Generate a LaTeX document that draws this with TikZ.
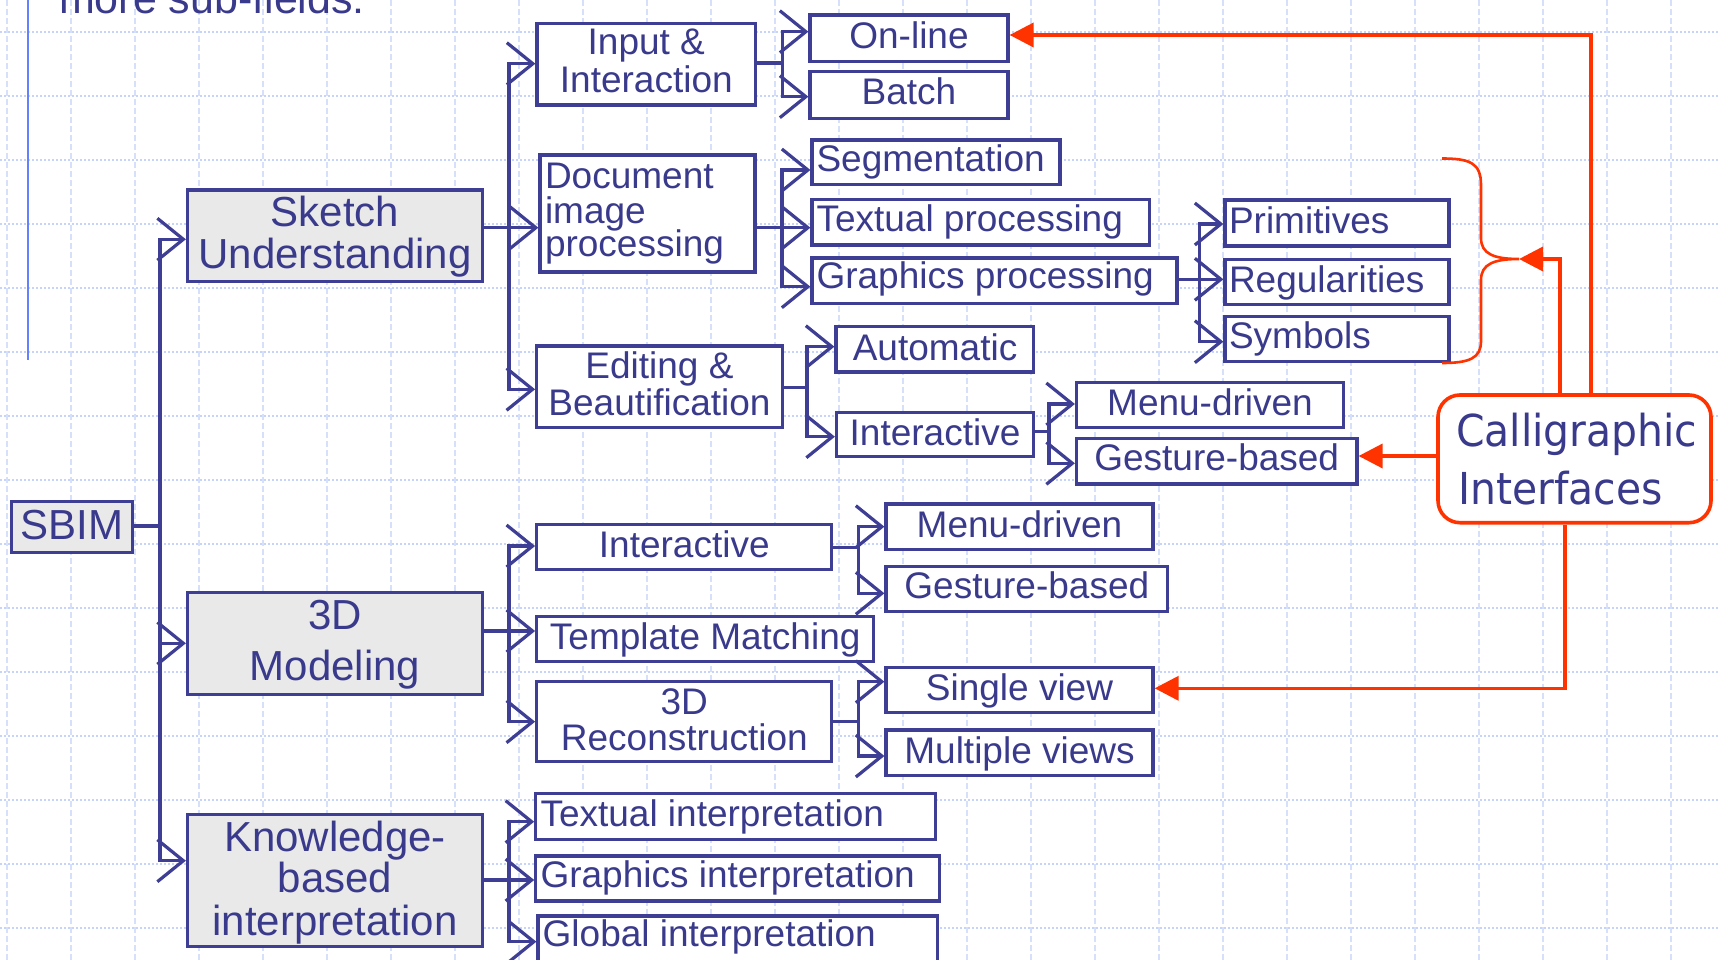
\documentclass[tikz,border=0pt]{standalone}
\usepackage{fontspec}
\setmainfont{Liberation Sans}
\newfontfamily\calfont[FakeStretch=0.93]{DejaVu Sans}
\usetikzlibrary{arrows.meta}
\definecolor{navy}{RGB}{62,62,148}
\definecolor{txtc}{RGB}{58,58,140}
\definecolor{grayfill}{RGB}{233,233,233}
\definecolor{redc}{RGB}{255,51,0}
\definecolor{gridh}{RGB}{198,212,250}
\definecolor{gridv}{RGB}{214,224,250}
\definecolor{leftline}{RGB}{100,130,255}
\newcommand\mybox[6]{\node[#6, minimum width={(#4-#2)*1pt}, minimum height={(#5-#3)*1pt}] (#1) at ({(#2+#4)/2},{(#3+#5)/2}) {};}
\tikzset{
  box/.style={draw=navy, line width=3.2pt, fill=white, inner sep=0pt, rectangle},
  topbox/.style={box, fill=grayfill},
  calbox/.style={draw=redc, line width=3.6pt, rounded corners=22pt, fill=white, inner sep=0pt, rectangle},
  big/.style={text=txtc, font=\fontsize{42}{42}\selectfont, inner sep=0pt, outer sep=0pt},
  small/.style={text=txtc, font=\fontsize{37}{37}\selectfont, inner sep=0pt, outer sep=0pt},
  caltext/.style={text=txtc, font=\calfont\fontsize{44}{44}\selectfont, inner sep=0pt, outer sep=0pt},
  conn/.style={draw=navy, line width=3.2pt},
  vbarb/.tip={Straight Barb[length=26pt,width=42pt]},
  rtri/.tip={Triangle[length=24pt,width=24pt]},
  redline/.style={draw=redc, line width=3.6pt},
  gridvline/.style={draw=gridv, line width=1.6pt, dash pattern=on 6pt off 3pt},
  gridhline/.style={draw=gridh, line width=1.8pt, dash pattern=on 2pt off 2pt},
}
\begin{document}
\begin{tikzpicture}[x=1pt,y=-1pt]
\clip (0,0) rectangle (1719,960);
\fill[white] (0,0) rectangle (1719,960);
% background grid
\foreach \k in {0,...,26} \draw[gridvline] ({6.7+64*\k},0) -- ({6.7+64*\k},960);
\foreach \k in {0,...,14} \draw[gridhline] (0,{32+64*\k}) -- (1719,{32+64*\k});
\draw[draw=leftline, line width=2pt] (28.3,0) -- (28.3,360);
\node[anchor=base west, text=txtc, font=\fontsize{43}{43}\selectfont, inner sep=0pt, outer sep=0pt] (toptext) at (59,13.3) {more sub-fields:};

% level 1
\mybox{sbim}{11.5}{501.7}{132.8}{552.3}{topbox}
\mybox{sketch}{187.5}{190}{482.2}{281.3}{topbox}
\mybox{model}{187.5}{592.7}{482.2}{694.3}{topbox}
\mybox{know}{187.5}{814.3}{482.2}{946.7}{topbox}
% level 2
\mybox{input}{537}{23.3}{755.5}{105}{box}
\mybox{doc}{540}{155}{755}{272}{box}
\mybox{edit}{536.7}{346}{782.2}{427.3}{box}
\mybox{inter3}{536.7}{524.3}{831.8}{569.3}{box}
\mybox{templ}{536.7}{616.3}{873.8}{661.7}{box}
\mybox{recon}{536.7}{681.7}{831.8}{761.7}{box}
\mybox{textint}{535.8}{793.3}{935.4}{839.3}{box}
\mybox{graphint}{535.8}{856}{939.8}{901}{box}
\mybox{globint}{538}{916}{937.6}{975}{box}
% level 3
\mybox{online}{810}{15}{1008}{61.7}{box}
\mybox{batch}{810}{71.7}{1008}{118.3}{box}
\mybox{seg}{812}{140}{1060}{184.3}{box}
\mybox{textp}{812}{199.3}{1149.4}{245}{box}
\mybox{graphp}{812}{258}{1177}{303.3}{box}
\mybox{auto}{836}{326.7}{1033.6}{372}{box}
\mybox{inter2}{836.5}{412.3}{1033.6}{456.7}{box}
\mybox{menu3}{886}{504}{1153}{549.3}{box}
\mybox{gest3}{886}{566.7}{1167.5}{611.7}{box}
\mybox{single}{886}{667.3}{1153}{712.3}{box}
\mybox{multi}{886}{730}{1153}{775.7}{box}
% level 4
\mybox{prim}{1225}{200}{1449}{246}{box}
\mybox{reg}{1225}{259.3}{1449}{304.3}{box}
\mybox{sym}{1225}{316.7}{1449}{361.7}{box}
\mybox{menu2}{1076.5}{382.3}{1343.5}{427.3}{box}
\mybox{gest2}{1076.5}{438.3}{1357}{484}{box}
% calligraphic
\mybox{cal}{1438}{395}{1711}{522.7}{calbox}

% texts level 1
\node[big, anchor=base] (tsbim) at (72.2,539.3) {SBIM};
\node[big, anchor=base] (tsk1) at (335,226.7) {Sketch};
\node[big, anchor=base] (tsk2) at (335,268.3) {Understanding};
\node[big, anchor=base] (tmo1) at (335,629.3) {3D};
\node[big, anchor=base] (tmo2) at (335,680) {Modeling};
\node[big, anchor=base] (tkn1) at (335,851.7) {Knowledge-};
\node[big, anchor=base] (tkn2) at (335,892.7) {based};
\node[big, anchor=base] (tkn3) at (335,935) {interpretation};
% texts level 2
\node[small, anchor=base] (tin1) at (646.3,55) {Input \&};
\node[small, anchor=base] (tin2) at (646.3,92.7) {Interaction};
\node[small, anchor=base west] (tdo1) at (545,188.3) {Document};
\node[small, anchor=base west] (tdo2) at (545,223.3) {image};
\node[small, anchor=base west] (tdo3) at (545,256.7) {processing};
\node[small, anchor=base] (ted1) at (659.5,378.3) {Editing \&};
\node[small, anchor=base] (ted2) at (659.5,415) {Beautification};
\node[small, anchor=base] (ti3) at (684.3,557.3) {Interactive};
\node[small, anchor=base] (tte) at (705.2,649.3) {Template Matching};
\node[small, anchor=base] (tre1) at (684.3,714) {3D};
\node[small, anchor=base] (tre2) at (684.3,750) {Reconstruction};
\node[small, anchor=base west] (ttx) at (540.5,826) {Textual interpretation};
\node[small, anchor=base west] (tgr) at (540.5,887.3) {Graphics interpretation};
\node[small, anchor=base west] (tgl) at (542.7,946.7) {Global interpretation};
% texts level 3
\node[small, anchor=base] (ton) at (909,48.3) {On-line};
\node[small, anchor=base] (tba) at (909,105) {Batch};
\node[small, anchor=base west] (tse) at (816.5,171.7) {Segmentation};
\node[small, anchor=base west] (ttp) at (816.5,231.7) {Textual processing};
\node[small, anchor=base west] (tgp) at (816.5,288.3) {Graphics processing};
\node[small, anchor=base] (tau) at (935,360) {Automatic};
\node[small, anchor=base] (ti2) at (935,445) {Interactive};
\node[small, anchor=base] (tm3) at (1019.5,537.3) {Menu-driven};
\node[small, anchor=base] (tg3) at (1026.8,598.3) {Gesture-based};
\node[small, anchor=base] (tsv) at (1019.5,700) {Single view};
\node[small, anchor=base] (tmv) at (1019.5,763.3) {Multiple views};
% texts level 4
\node[small, anchor=base west] (tpr) at (1229,233.3) {Primitives};
\node[small, anchor=base west] (trg) at (1229,292.3) {Regularities};
\node[small, anchor=base west] (tsy) at (1229,348.3) {Symbols};
\node[small, anchor=base] (tm2) at (1210,415) {Menu-driven};
\node[small, anchor=base] (tg2) at (1216.7,470.7) {Gesture-based};
\node[caltext, anchor=base west] (tca1) at (1456,446.7) {Calligraphic};
\node[caltext, anchor=base west] (tca2) at (1458,504) {Interfaces};

% connectors
% sbim
\coordinate (j1) at (160,526);
\coordinate (a1s) at (160,239.3);
\coordinate (a1m) at (160,643.3);
\coordinate (a1k) at (160,860.7);
\draw[conn] (j1 -| sbim.east) -- (j1);
\draw[conn,{vbarb}-{vbarb}] (a1s -| sketch.west) -- (a1s) -- (a1k) -- (a1k -| know.west);
\draw[conn,-{vbarb}] (a1m) -- (a1m -| model.west);
% sketch
\coordinate (j2) at (509,227.7);
\coordinate (a2i) at (509,63.7);
\coordinate (a2e) at (509,389.3);
\draw[conn] (j2 -| sketch.east) -- (j2);
\draw[conn,{vbarb}-{vbarb}] (a2i -| input.west) -- (a2i) -- (a2e) -- (a2e -| edit.west);
\draw[conn,-{vbarb}] (j2) -- (j2 -| doc.west);
% model
\coordinate (j3) at (509,631);
\coordinate (a3i) at (509,546);
\coordinate (a3r) at (509,721.7);
\draw[conn] (j3 -| model.east) -- (j3);
\draw[conn,{vbarb}-{vbarb}] (a3i -| inter3.west) -- (a3i) -- (a3r) -- (a3r -| recon.west);
\draw[conn,-{vbarb}] (j3) -- (j3 -| templ.west);
% knowledge
\coordinate (j4) at (509,880);
\coordinate (a4t) at (509,821.7);
\coordinate (a4l) at (509,941.7);
\draw[conn] (j4 -| know.east) -- (j4);
\draw[conn,{vbarb}-{vbarb}] (a4t -| textint.west) -- (a4t) -- (a4l) -- (a4l -| globint.west);
\draw[conn,-{vbarb}] (j4) -- (j4 -| graphint.west);
% input
\coordinate (j5) at (782.5,63);
\coordinate (a5o) at (782.5,31.7);
\coordinate (a5b) at (782.5,96.7);
\draw[conn] (j5 -| input.east) -- (j5);
\draw[conn,{vbarb}-{vbarb}] (a5o -| online.west) -- (a5o) -- (a5b) -- (a5b -| batch.west);
% doc
\coordinate (j6) at (782,227.7);
\coordinate (a6s) at (782,170);
\coordinate (a6g) at (782,286.7);
\draw[conn] (j6 -| doc.east) -- (j6);
\draw[conn,{vbarb}-{vbarb}] (a6s -| seg.west) -- (a6s) -- (a6g) -- (a6g -| graphp.west);
\draw[conn,-{vbarb}] (j6) -- (j6 -| textp.west);
% edit
\coordinate (j7) at (807,387.3);
\coordinate (a7a) at (807,346.7);
\coordinate (a7i) at (807,436.7);
\draw[conn] (j7 -| edit.east) -- (j7);
\draw[conn,{vbarb}-{vbarb}] (a7a -| auto.west) -- (a7a) -- (a7i) -- (a7i -| inter2.west);
% graphics processing
\coordinate (j8) at (1199.3,279.3);
\coordinate (a8p) at (1199.3,224);
\coordinate (a8s) at (1199.3,341.7);
\draw[conn] (j8 -| graphp.east) -- (j8);
\draw[conn,{vbarb}-{vbarb}] (a8p -| prim.west) -- (a8p) -- (a8s) -- (a8s -| sym.west);
\draw[conn,-{vbarb}] (j8) -- (j8 -| reg.west);
% interactive (editing)
\coordinate (j9) at (1049,431.7);
\coordinate (a9m) at (1049,404);
\coordinate (a9g) at (1049,463.3);
\draw[conn] (j9 -| inter2.east) -- (j9);
\draw[conn,{vbarb}-{vbarb}] (a9m -| menu2.west) -- (a9m) -- (a9g) -- (a9g -| gest2.west);
% interactive (3D)
\coordinate (j10) at (858.6,547.3);
\coordinate (a10m) at (858.6,526.7);
\coordinate (a10g) at (858.6,593.3);
\draw[conn] (j10 -| inter3.east) -- (j10);
\draw[conn,{vbarb}-{vbarb}] (a10m -| menu3.west) -- (a10m) -- (a10g) -- (a10g -| gest3.west);
% reconstruction
\coordinate (j11) at (858.6,721.7);
\coordinate (a11s) at (858.6,681.7);
\coordinate (a11m) at (858.6,756);
\draw[conn] (j11 -| recon.east) -- (j11);
\draw[conn,{vbarb}-{vbarb}] (a11s -| single.west) -- (a11s) -- (a11m) -- (a11m -| multi.west);

% red brace
\coordinate (bracetip) at (1519,259);
\draw[draw=redc, line width=2.6pt] (1442,158.5) .. controls (1470,158.5) and (1481,163) .. (1481,185) -- (1481,238) .. controls (1481,254) and (1494,259) .. (bracetip) .. controls (1494,259) and (1481,264) .. (1481,280) -- (1481,341) .. controls (1481,358) and (1470,363) .. (1442,363);
% red arrows
\coordinate (r1) at (1591,35);
\draw[redline,-{rtri}] (r1 |- cal.north) -- (r1) -- (r1 -| online.east);
\coordinate (r2) at (1560,259);
\draw[redline,-{rtri}] (r2 |- cal.north) -- (r2) -- (bracetip);
\coordinate (r3) at (1565,688.3);
\draw[redline,-{rtri}] (r3 |- cal.south) -- (r3) -- (r3 -| single.east);
\coordinate (r4) at (1400,456);
\draw[redline,-{rtri}] (r4 -| cal.west) -- (r4 -| gest2.east);
\end{tikzpicture}
\end{document}
